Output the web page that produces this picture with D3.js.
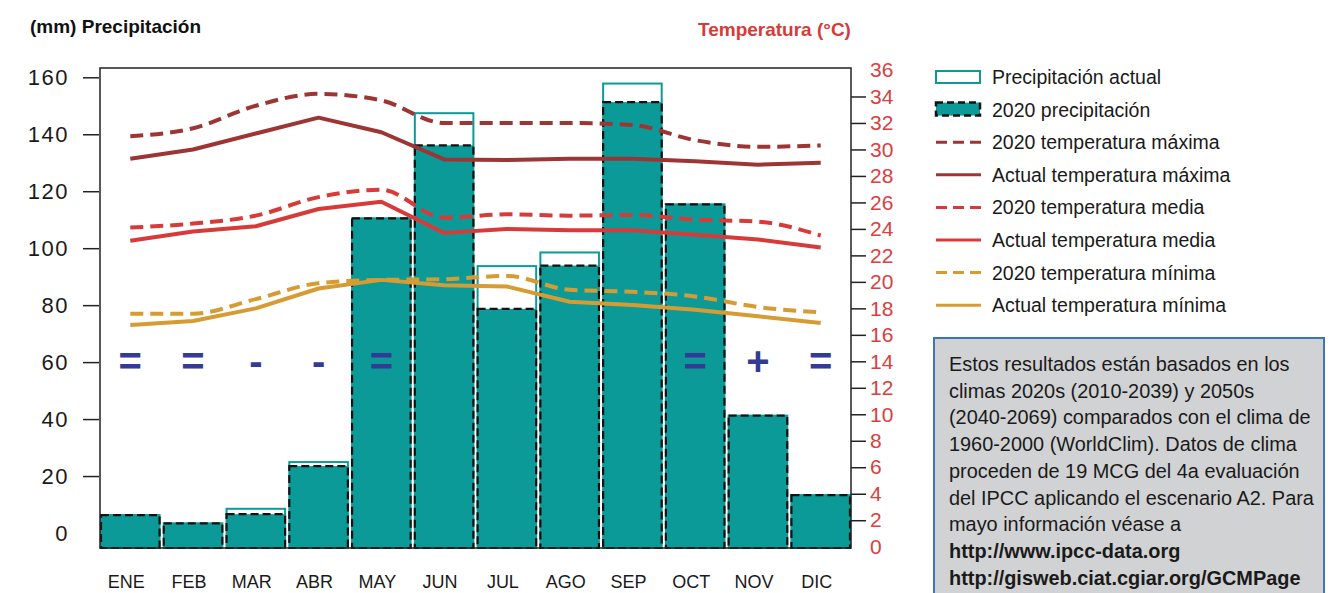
<!DOCTYPE html>
<html>
<head>
<meta charset="utf-8">
<script src="https://d3js.org/d3.v7.min.js"></script>
<style>
body { margin: 0; background: #fff; }
text { font-family: "Liberation Sans", Arial, sans-serif; }
</style>
</head>
<body>
<script>
var w = 1336, h = 593;

// datos
var months = ["ENE","FEB","MAR","ABR","MAY","JUN","JUL","AGO","SEP","OCT","NOV","DIC"];
var precipActual = [6.3, 3.4, 8.5, 24.9, 110.5, 147.4, 93.7, 98.5, 157.8, 115.4, 41.2, 13.3];
var precip2020   = [6.3, 3.4, 6.6, 23.5, 110.5, 136.1, 78.7, 93.9, 151.3, 115.4, 41.2, 13.3];
var tmax2020   = [31.0, 31.6, 33.3, 34.2, 33.7, 32.0, 32.0, 32.0, 31.85, 30.7, 30.2, 30.3];
var tmaxActual = [29.3, 30.0, 31.2, 32.4, 31.3, 29.25, 29.2, 29.3, 29.3, 29.1, 28.85, 29.0];
var tmean2020   = [24.1, 24.4, 25.0, 26.4, 26.95, 24.85, 25.1, 25.0, 25.05, 24.7, 24.55, 23.5];
var tmeanActual = [23.1, 23.8, 24.2, 25.5, 26.05, 23.7, 24.0, 23.9, 23.9, 23.55, 23.2, 22.6];
var tmin2020   = [17.6, 17.6, 18.7, 19.9, 20.15, 20.2, 20.45, 19.4, 19.25, 18.9, 18.1, 17.7];
var tminActual = [16.75, 17.05, 18.0, 19.5, 20.15, 19.75, 19.65, 18.5, 18.25, 17.9, 17.4, 16.9];
var symbols = ["=","=","-","-","=","","","","","=","+","="];
var precipTicks = [0,20,40,60,80,100,120,140,160];
var tempTicks = [0,2,4,6,8,10,12,14,16,18,20,22,24,26,28,30,32,34,36];
var infoLines = [
	"Estos resultados están basados en los",
	"climas 2020s (2010-2039) y 2050s",
	"(2040-2069) comparados con el clima de",
	"1960-2000 (WorldClim). Datos de clima",
	"proceden de 19 MCG del 4a evaluación",
	"del IPCC aplicando el escenario A2. Para",
	"mayo información véase a"
];
var infoLinks = ["http://www.ipcc-data.org", "http://gisweb.ciat.cgiar.org/GCMPage"];

var teal = "#0b9a97", darkRed = "#9e3535", red = "#d63b3a", gold = "#d69c33", navy = "#343b97";

var series = [
	{label: "2020 temperatura máxima", values: tmax2020, color: darkRed, dash: true},
	{label: "Actual temperatura máxima", values: tmaxActual, color: darkRed, dash: false},
	{label: "2020 temperatura media", values: tmean2020, color: red, dash: true},
	{label: "Actual temperatura media", values: tmeanActual, color: red, dash: false},
	{label: "2020 temperatura mínima", values: tmin2020, color: gold, dash: true},
	{label: "Actual temperatura mínima", values: tminActual, color: gold, dash: false}
];

var plot = {left: 100, right: 851, top: 68, bottom: 548};

var svg = d3.select("body").append("svg")
	.attr("width", w)
	.attr("height", h);

var x = d3.scaleBand()
	.domain(months)
	.range([plot.left, plot.right])
	.paddingInner(0.035)
	.paddingOuter(0);

var yP = d3.scaleLinear().domain([0, 160]).range([533, 77.3]);
var yT = d3.scaleLinear().domain([0, 36]).range([546.7, 70]);

// barras
svg.append("g").selectAll("rect")
	.data(precipActual)
	.enter().append("rect")
	.attr("x", function(d,i){ return x(months[i]) + 1; })
	.attr("y", function(d){ return yP(d); })
	.attr("width", x.bandwidth() - 2)
	.attr("height", function(d){ return plot.bottom - yP(d); })
	.style("fill", "#fff")
	.style("stroke", teal)
	.style("stroke-width", 2);

svg.append("g").selectAll("rect")
	.data(precip2020)
	.enter().append("rect")
	.attr("x", function(d,i){ return x(months[i]) + 1; })
	.attr("y", function(d){ return yP(d); })
	.attr("width", x.bandwidth() - 2)
	.attr("height", function(d){ return plot.bottom - yP(d); })
	.style("fill", teal)
	.style("stroke", "#111")
	.style("stroke-width", 2.2)
	.style("stroke-dasharray", "8,4");

// lineas de temperatura
var lineSmooth = d3.line()
	.x(function(d,i){ return x(months[i]) + x.bandwidth()/2; })
	.y(function(d){ return yT(d); })
	.curve(d3.curveMonotoneX);
var lineStraight = d3.line()
	.x(function(d,i){ return x(months[i]) + x.bandwidth()/2; })
	.y(function(d){ return yT(d); });

svg.append("g").selectAll("path")
	.data(series)
	.enter().append("path")
	.attr("d", function(d){ return d.dash ? lineSmooth(d.values) : lineStraight(d.values); })
	.style("fill", "none")
	.style("stroke", function(d){ return d.color; })
	.style("stroke-width", 4)
	.style("stroke-linejoin", "round")
	.style("stroke-dasharray", function(d){ return d.dash ? "13,7" : null; });

// simbolos
svg.append("g").selectAll("text")
	.data(symbols)
	.enter().append("text")
	.attr("x", function(d,i){ return x(months[i]) + x.bandwidth()/2; })
	.attr("y", 375)
	.attr("text-anchor", "middle")
	.style("font-size", "40px")
	.style("font-weight", "bold")
	.style("fill", navy)
	.text(function(d){ return d; });

// marco
svg.append("rect")
	.attr("x", plot.left).attr("y", plot.top)
	.attr("width", plot.right - plot.left)
	.attr("height", plot.bottom - plot.top)
	.style("fill", "none")
	.style("stroke", "#222")
	.style("stroke-width", 1.5);

// ejes
var axisL = svg.append("g")
	.attr("transform", "translate(" + (plot.left - 1) + ",0)")
	.call(d3.axisLeft(yP).tickValues(precipTicks).tickSize(16).tickPadding(14));
axisL.select(".domain").remove();
axisL.selectAll("line").style("stroke", "#222").style("stroke-width", 1.5);
axisL.selectAll(".tick").filter(function(d){ return d === 0; }).select("line").remove();
axisL.selectAll("text")
	.style("font-family", "Liberation Sans, Arial, sans-serif")
	.style("font-size", "22px")
	.style("letter-spacing", "1.5px")
	.style("fill", "#1a1a1a");

var axisR = svg.append("g")
	.attr("transform", "translate(" + plot.right + ",0)")
	.call(d3.axisRight(yT).tickValues(tempTicks).tickSize(15).tickPadding(4));
axisR.select(".domain").remove();
axisR.selectAll("line").style("stroke", "#222").style("stroke-width", 1.5);
axisR.selectAll(".tick").filter(function(d){ return d === 0 || d === 36; }).select("line").remove();
axisR.selectAll("text")
	.style("font-family", "Liberation Sans, Arial, sans-serif")
	.style("font-size", "21px")
	.style("fill", "#d94040");

// meses
svg.append("g").selectAll("text")
	.data(months)
	.enter().append("text")
	.attr("x", function(d){ return x(d) + x.bandwidth()/2 - 4; })
	.attr("y", 588)
	.attr("text-anchor", "middle")
	.style("font-size", "18px")
	.style("fill", "#1a1a1a")
	.text(function(d){ return d; });

// titulos
svg.append("text")
	.attr("x", 30).attr("y", 33)
	.style("font-size", "19px")
	.style("font-weight", "bold")
	.style("fill", "#111")
	.text("(mm) Precipitación");

svg.append("text")
	.attr("x", 698).attr("y", 36)
	.style("font-size", "19px")
	.style("font-weight", "bold")
	.style("fill", "#d63b3a")
	.text("Temperatura (°C)");

// leyenda
var legend = svg.append("g").attr("transform", "translate(935,0)");
var rowY = function(i){ return 77 + i*32.6; };

legend.append("rect")
	.attr("x", 1).attr("y", rowY(0) - 6)
	.attr("width", 44).attr("height", 12)
	.style("fill", "#fff").style("stroke", teal).style("stroke-width", 2);
legend.append("rect")
	.attr("x", 1).attr("y", rowY(1) - 7)
	.attr("width", 44).attr("height", 13)
	.style("fill", teal).style("stroke", "#111").style("stroke-width", 2.5)
	.style("stroke-dasharray", "7,4");

legend.selectAll(".legline")
	.data(series)
	.enter().append("line")
	.attr("class", "legline")
	.attr("x1", 1).attr("x2", 46)
	.attr("y1", function(d,i){ return rowY(i+2); })
	.attr("y2", function(d,i){ return rowY(i+2); })
	.style("stroke", function(d){ return d.color; })
	.style("stroke-width", 3)
	.style("stroke-dasharray", function(d){ return d.dash ? "11,6" : null; });

var legLabels = ["Precipitación actual", "2020 precipitación"].concat(series.map(function(d){ return d.label; }));
legend.selectAll(".legtext")
	.data(legLabels)
	.enter().append("text")
	.attr("class", "legtext")
	.attr("x", 57)
	.attr("y", function(d,i){ return rowY(i) + 7; })
	.style("font-size", "19.5px")
	.style("fill", "#1a1a1a")
	.text(function(d){ return d; });

// caja de informacion
svg.append("rect")
	.attr("x", 934).attr("y", 338)
	.attr("width", 390).attr("height", 270)
	.style("fill", "#d1d2d4")
	.style("stroke", "#3f74ba")
	.style("stroke-width", 2);

svg.append("g").selectAll("text")
	.data(infoLines.concat(infoLinks))
	.enter().append("text")
	.attr("x", 949)
	.attr("y", function(d,i){ return 371 + i*26.7; })
	.style("font-size", "19.9px")
	.style("font-weight", function(d,i){ return i < infoLines.length ? "normal" : "bold"; })
	.style("fill", "#1a1a1a")
	.text(function(d){ return d; });
</script>
</body>
</html>
